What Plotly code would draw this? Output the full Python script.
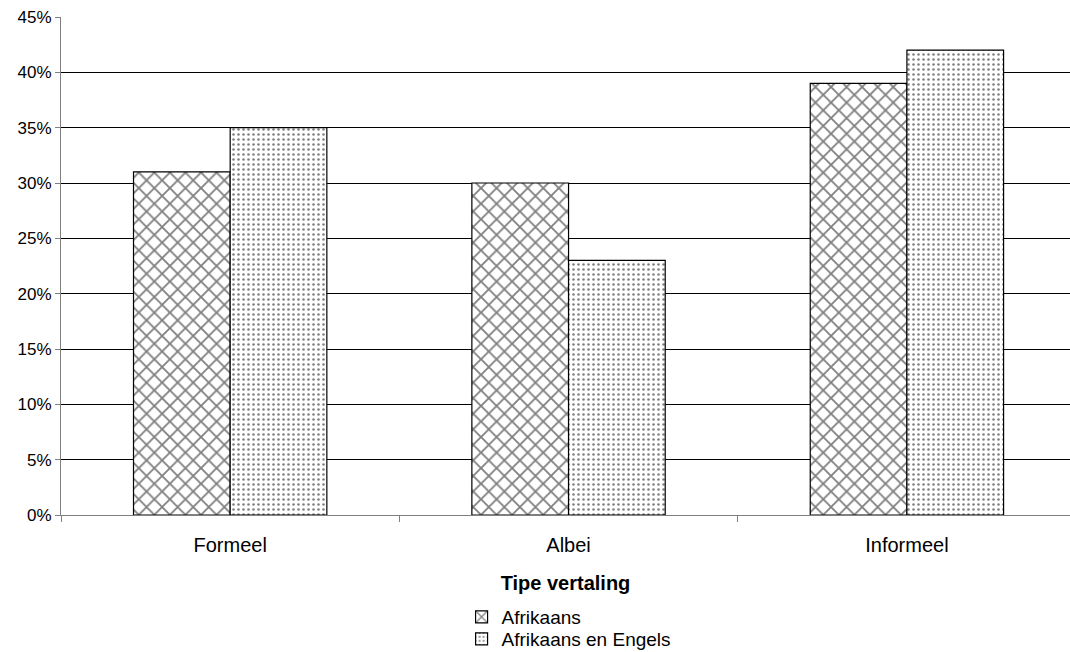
import plotly.graph_objects as go

categories = ["Formeel", "Albei", "Informeel"]
afrikaans = [31, 30, 39]
afrikaans_engels = [35, 23, 42]
series_names = ["Afrikaans", "Afrikaans en Engels"]
y_ticks = [0, 5, 10, 15, 20, 25, 30, 35, 40, 45]
y_tick_labels = [f"{v}%" for v in y_ticks]

FONT = "Liberation Sans, Arial, sans-serif"

fig = go.Figure()
fig.add_trace(go.Bar(
    x=categories, y=afrikaans, name=series_names[0], legend="legend",
    marker=dict(color="white", line=dict(color="black", width=1.2),
                pattern=dict(shape="x", size=11, solidity=0.3,
                             fgcolor="#000000", bgcolor="white")),
))
fig.add_trace(go.Bar(
    x=categories, y=afrikaans_engels, name=series_names[1], legend="legend2",
    marker=dict(color="white", line=dict(color="black", width=1.2),
                pattern=dict(shape=".", size=5, solidity=0.2,
                             fgcolor="#000000", bgcolor="white")),
))

leg_common = dict(xanchor="left", yanchor="middle", orientation="v",
                  font=dict(size=19, family=FONT), bgcolor="rgba(0,0,0,0)",
                  itemwidth=30, borderwidth=0)

fig.update_layout(
    width=1070, height=652,
    margin=dict(l=61, r=0, t=17, b=137, autoexpand=False),
    barmode="group", bargap=0.4286, bargroupgap=0,
    plot_bgcolor="white", paper_bgcolor="white",
    font=dict(family=FONT, color="black", size=17),
    showlegend=True,
    legend=dict(x=0.397, y=-0.2048, **leg_common),
    legend2=dict(x=0.397, y=-0.2490, **leg_common),
    xaxis=dict(
        type="category", range=[-0.5, 2.482],
        showline=True, linecolor="#808080", linewidth=1,
        ticks="outside", tickson="boundaries", ticklen=6, tickcolor="#808080",
        tickfont=dict(size=20), ticklabelstandoff=12,
        showgrid=False, automargin=False,
        title=dict(text="<b>Tipe vertaling</b>", font=dict(size=20), standoff=20),
    ),
    yaxis=dict(
        range=[0, 45], tickmode="array", tickvals=y_ticks, ticktext=y_tick_labels,
        showline=True, linecolor="#808080", linewidth=1,
        ticks="outside", ticklen=5, tickcolor="#808080",
        tickfont=dict(size=17), automargin=False,
        showgrid=True, gridcolor="black", gridwidth=1, zeroline=False,
    ),
)

fig.write_html("out.html")
